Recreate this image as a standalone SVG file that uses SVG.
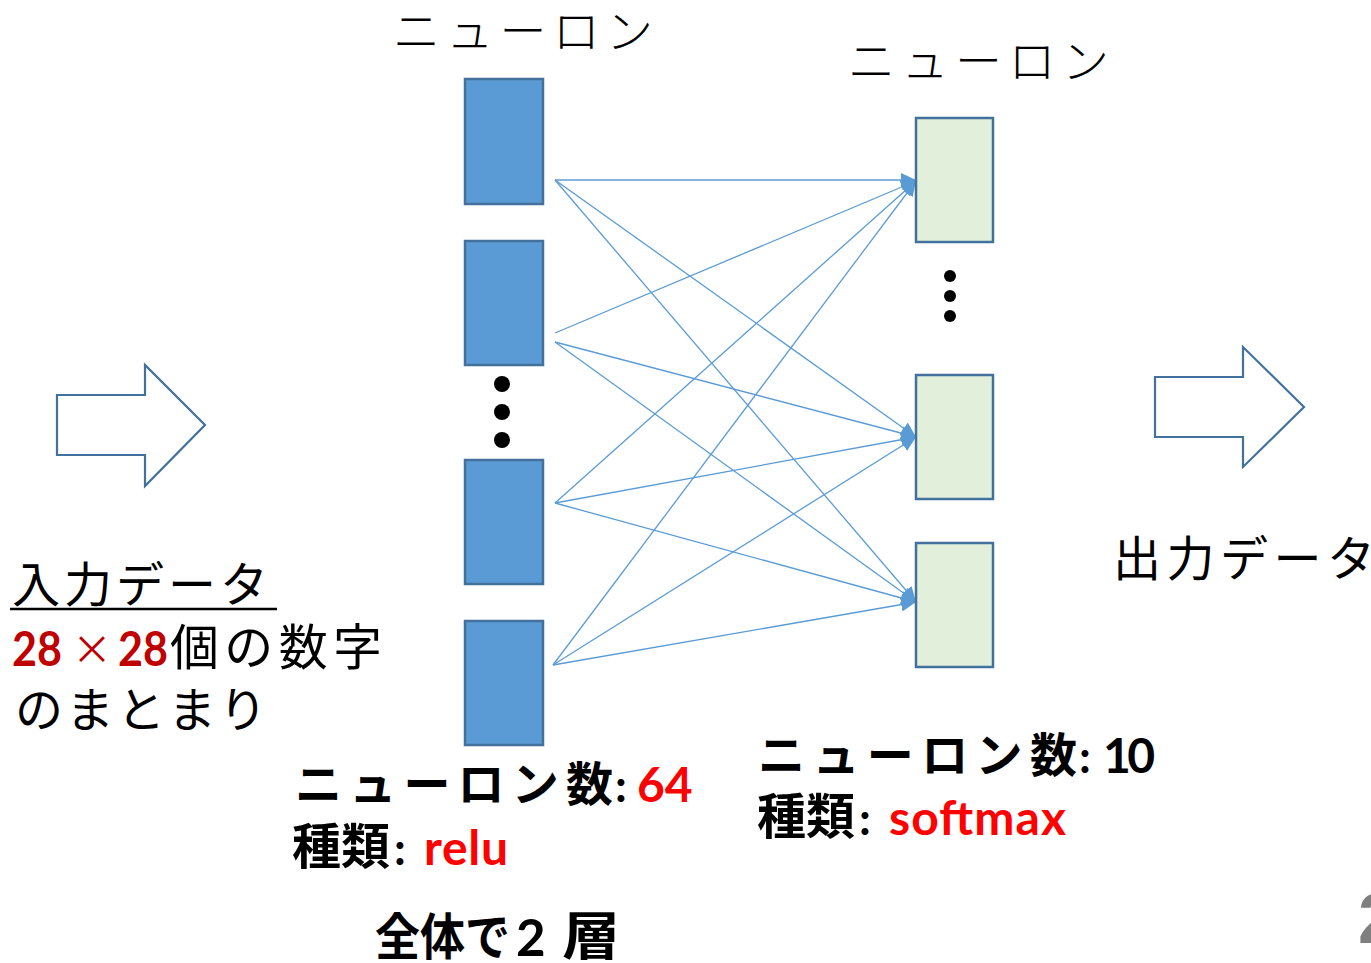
<svg xmlns="http://www.w3.org/2000/svg" width="1371" height="963" viewBox="0 0 1371 963">
<style>
.hid{fill:#5B9BD5;stroke:#41719C;stroke-width:2.5}
.out{fill:#E2EFDA;stroke:#41719C;stroke-width:2.5}
.blk{fill:#ffffff;stroke:#41719C;stroke-width:2.2}
.ln{stroke:#5B9BD5;stroke-width:1.3;fill:none;marker-end:url(#ah)}
.jp{font-family:"Noto Sans CJK JP","Noto Sans",sans-serif;fill:#000}
.lt{font-weight:300}
.bd{font-family:"Lato","Noto Sans CJK JP",sans-serif;font-weight:bold;fill:#000}
.bj{font-family:"Noto Sans CJK JP",sans-serif;font-weight:bold;fill:#000}
.red{fill:#FF0000}
.dred{fill:#C00000}
</style>
<defs>
<marker id="ah" markerUnits="userSpaceOnUse" markerWidth="16" markerHeight="14" refX="15" refY="7" orient="auto">
<path d="M0,0 L15,7 L0,14 z" fill="#5B9BD5"/>
</marker>
</defs>
<rect width="1371" height="963" fill="#ffffff"/>

<g id="connectors">
<line class="ln" x1="555" y1="180" x2="916" y2="180"/>
<line class="ln" x1="555" y1="180" x2="916" y2="437"/>
<line class="ln" x1="555" y1="180" x2="916" y2="602"/>
<line class="ln" x1="555" y1="333" x2="916" y2="181"/>
<line class="ln" x1="555" y1="342" x2="916" y2="437"/>
<line class="ln" x1="555" y1="342" x2="916" y2="602"/>
<line class="ln" x1="555" y1="503" x2="916" y2="181"/>
<line class="ln" x1="555" y1="503" x2="916" y2="437"/>
<line class="ln" x1="555" y1="503" x2="916" y2="602"/>
<line class="ln" x1="553" y1="665" x2="916" y2="181"/>
<line class="ln" x1="553" y1="665" x2="916" y2="437"/>
<line class="ln" x1="553" y1="665" x2="916" y2="602"/>
</g>

<g id="input-arrow">
<path class="blk" d="M57,395 L145,395 L145,365 L205,425 L145,486 L145,455 L57,455 Z"/>
</g>
<g id="output-arrow">
<path class="blk" d="M1155,377 L1243,377 L1243,347 L1304,407 L1243,467 L1243,437 L1155,437 Z"/>
</g>

<g id="hidden-1"><rect class="hid" x="465" y="79" width="78" height="125"/></g>
<g id="hidden-2"><rect class="hid" x="465" y="241" width="78" height="124"/></g>
<g id="hidden-dots">
<circle cx="502" cy="384" r="8"/><circle cx="502" cy="412" r="8"/><circle cx="502" cy="440" r="8"/>
</g>
<g id="hidden-3"><rect class="hid" x="465" y="460" width="78" height="124"/></g>
<g id="hidden-4"><rect class="hid" x="465" y="621" width="78" height="124"/></g>

<g id="output-1"><rect class="out" x="916" y="118" width="77" height="124"/></g>
<g id="output-dots">
<circle cx="950" cy="276" r="6"/><circle cx="950" cy="296" r="6"/><circle cx="950" cy="316" r="6"/>
</g>
<g id="output-2"><rect class="out" x="916" y="375" width="77" height="124"/></g>
<g id="output-3"><rect class="out" x="916" y="543" width="77" height="124"/></g>

<g id="labels">
<text class="jp lt" x="393" y="48" font-size="47" textLength="260" lengthAdjust="spacing">ニューロン</text>
<text class="jp lt" x="848" y="78" font-size="47" textLength="261" lengthAdjust="spacing">ニューロン</text>

<text class="jp" x="12" y="602" font-size="48" textLength="256" lengthAdjust="spacing">入力データ</text>
<line x1="10" y1="609" x2="277" y2="609" stroke="#000" stroke-width="2.5"/>
<text class="bd dred" x="12" y="666" font-size="48" textLength="50" lengthAdjust="spacingAndGlyphs">28</text>
<text class="jp dred" x="72" y="664" font-size="40">×</text>
<text class="bd dred" x="118" y="666" font-size="48" textLength="50" lengthAdjust="spacingAndGlyphs">28</text>
<text class="jp" x="170" y="665" font-size="49" textLength="212" lengthAdjust="spacing">個の数字</text>
<text class="jp" x="15" y="727" font-size="48" textLength="252" lengthAdjust="spacing">のまとまり</text>

<text class="jp" x="1113" y="576" font-size="48" textLength="262" lengthAdjust="spacing">出力データ</text>

<text class="bj" x="295" y="801" font-size="47" textLength="318" lengthAdjust="spacing">ニューロン数</text>
<text class="bd" x="615" y="802" font-size="46">:</text>
<text class="bd red" x="637" y="802" font-size="48">64</text>
<text class="bj" x="292" y="864" font-size="49" textLength="98" lengthAdjust="spacing">種類</text>
<text class="bd" x="394" y="865" font-size="46">:</text>
<text class="bd red" x="424" y="865" font-size="48" textLength="84" lengthAdjust="spacing">relu</text>

<text class="bj" x="375" y="955" font-size="50" textLength="135" lengthAdjust="spacingAndGlyphs">全体で</text>
<text class="bd" x="516" y="956" font-size="51">2</text>
<text class="bj" x="562" y="955" font-size="52" textLength="58" lengthAdjust="spacingAndGlyphs">層</text>

<text class="bj" x="758" y="772" font-size="47" textLength="319" lengthAdjust="spacing">ニューロン数</text>
<text class="bd" x="1079" y="773" font-size="46">:</text>
<text class="bd" x="1103" y="773" font-size="48" textLength="52" lengthAdjust="spacing">10</text>
<text class="bj" x="757" y="834" font-size="49" textLength="98" lengthAdjust="spacing">種類</text>
<text class="bd" x="859" y="835" font-size="46">:</text>
<text class="bd red" x="889" y="835" font-size="48" textLength="177" lengthAdjust="spacing">softmax</text>

<text x="1358" y="943" font-family="Liberation Sans, sans-serif" font-weight="bold" font-size="70" fill="#7F7F7F">2</text>
</g>
</svg>
